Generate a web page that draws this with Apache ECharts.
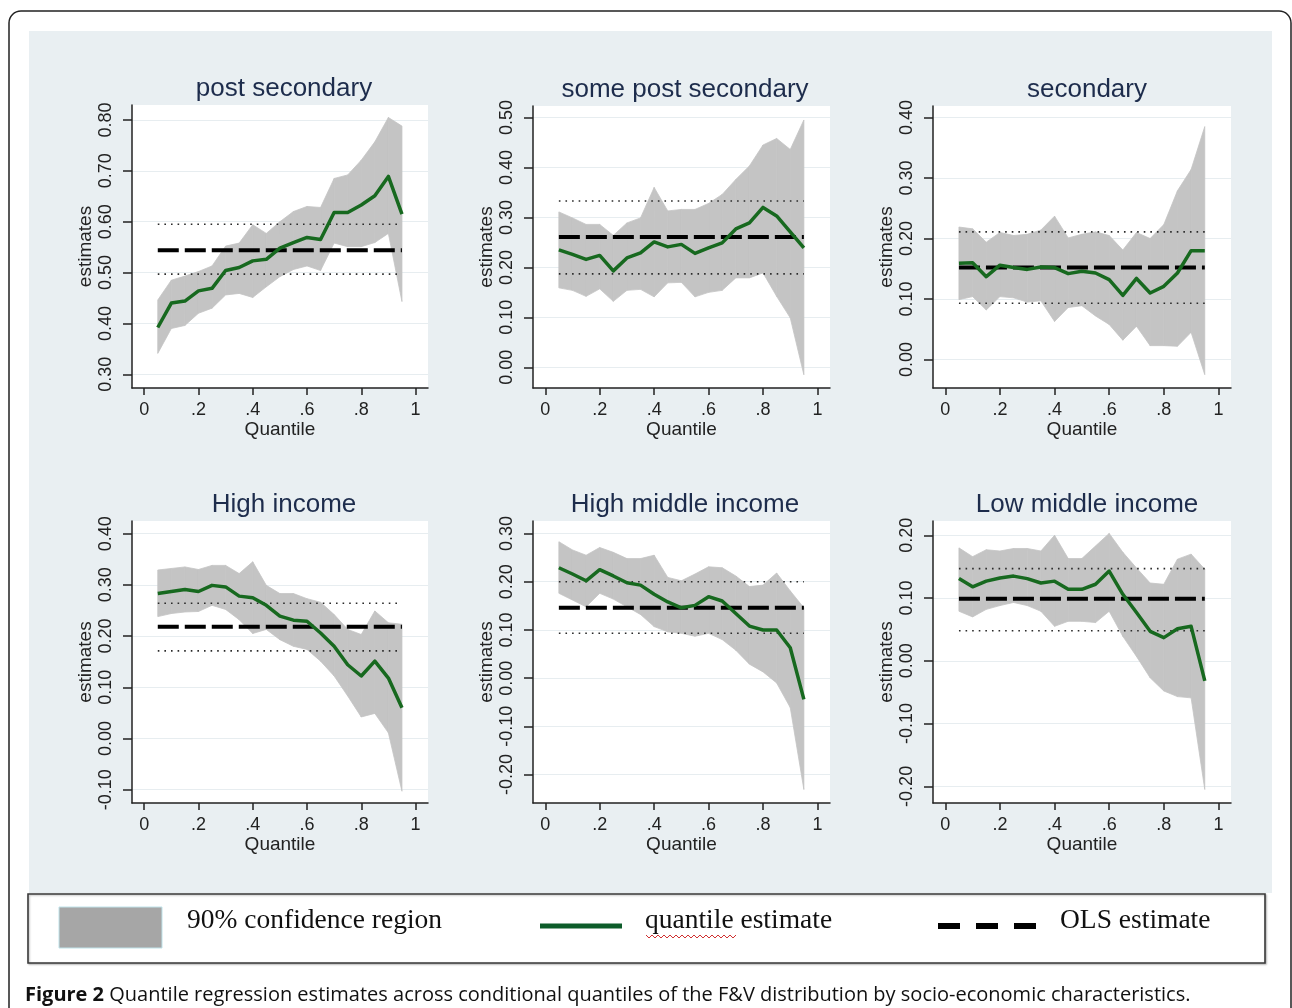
<!DOCTYPE html>
<html>
<head>
<meta charset="utf-8">
<script src="https://cdn.jsdelivr.net/npm/echarts@6/dist/echarts.min.js"></script>
<style>
html,body{margin:0;padding:0;background:#fff;}
#chart{width:1292px;height:1008px;}
</style>
</head>
<body>
<div id="chart"></div>
<script>
// ---------- DATA ----------
const quantiles = [0.05,0.10,0.15,0.20,0.25,0.30,0.35,0.40,0.45,0.50,0.55,0.60,0.65,0.70,0.75,0.80,0.85,0.90,0.95];
const xTicks = [0, 0.2, 0.4, 0.6, 0.8, 1];

const panelTitles = ["post secondary", "some post secondary", "secondary", "High income", "High middle income", "Low middle income"];

// post secondary
const postSecEst = [0.392,0.440,0.444,0.464,0.469,0.504,0.510,0.523,0.526,0.548,0.559,0.569,0.565,0.618,0.618,0.633,0.651,0.689,0.615];
const postSecHi  = [0.446,0.485,0.493,0.502,0.513,0.552,0.558,0.594,0.577,0.600,0.620,0.630,0.628,0.685,0.692,0.721,0.757,0.805,0.788];
const postSecLo  = [0.341,0.390,0.396,0.420,0.430,0.456,0.459,0.451,0.472,0.492,0.506,0.513,0.504,0.558,0.551,0.551,0.559,0.577,0.443];
const postSecOls = [0.544, 0.497, 0.595]; // estimate, lower, upper
const postSecTicks = [0.30,0.40,0.50,0.60,0.70,0.80];

// some post secondary
const somePostEst = [0.235,0.226,0.216,0.224,0.193,0.219,0.229,0.251,0.241,0.246,0.228,0.239,0.249,0.277,0.289,0.320,0.303,0.271,0.239];
const somePostHi  = [0.311,0.299,0.286,0.286,0.264,0.289,0.299,0.360,0.313,0.316,0.316,0.328,0.346,0.376,0.403,0.445,0.458,0.436,0.495];
const somePostLo  = [0.159,0.154,0.142,0.157,0.132,0.154,0.156,0.141,0.169,0.170,0.141,0.150,0.154,0.179,0.179,0.189,0.142,0.099,-0.015];
const somePostOls = [0.261, 0.187, 0.333];
const somePostTicks = [0.00,0.10,0.20,0.30,0.40,0.50];

// secondary
const secEst = [0.159,0.160,0.137,0.156,0.152,0.149,0.153,0.152,0.142,0.146,0.143,0.132,0.106,0.134,0.110,0.121,0.143,0.180,0.180];
const secHi  = [0.219,0.216,0.194,0.210,0.205,0.207,0.214,0.237,0.201,0.207,0.211,0.205,0.181,0.210,0.200,0.223,0.279,0.314,0.385];
const secLo  = [0.099,0.104,0.082,0.104,0.102,0.095,0.097,0.063,0.086,0.089,0.072,0.058,0.032,0.055,0.023,0.023,0.022,0.045,-0.025];
const secOls = [0.152, 0.093, 0.211];
const secTicks = [0.00,0.10,0.20,0.30,0.40];

// High income
const highIncEst = [0.283,0.287,0.291,0.287,0.299,0.296,0.278,0.275,0.260,0.239,0.231,0.229,0.206,0.180,0.144,0.122,0.151,0.118,0.060];
const highIncHi  = [0.329,0.332,0.335,0.330,0.338,0.338,0.322,0.345,0.299,0.283,0.283,0.273,0.266,0.242,0.213,0.203,0.249,0.226,0.223];
const highIncLo  = [0.238,0.244,0.247,0.248,0.260,0.252,0.232,0.205,0.213,0.193,0.180,0.174,0.151,0.122,0.083,0.042,0.049,0.011,-0.103];
const highIncOls = [0.218, 0.171, 0.264];
const highIncTicks = [-0.10,0.00,0.10,0.20,0.30,0.40];

// High middle income
const highMidEst = [0.229,0.216,0.202,0.225,0.212,0.198,0.193,0.174,0.158,0.146,0.151,0.169,0.160,0.134,0.108,0.100,0.100,0.063,-0.044];
const highMidHi  = [0.283,0.266,0.255,0.271,0.261,0.248,0.248,0.255,0.209,0.202,0.216,0.231,0.229,0.212,0.190,0.193,0.218,0.181,0.146];
const highMidLo  = [0.176,0.162,0.148,0.176,0.164,0.148,0.132,0.107,0.096,0.093,0.087,0.093,0.080,0.058,0.029,0.013,-0.010,-0.061,-0.231];
const highMidOls = [0.146, 0.093, 0.200];
const highMidTicks = [-0.20,-0.10,0.00,0.10,0.20,0.30];

// Low middle income
const lowMidEst = [0.131,0.118,0.127,0.132,0.135,0.131,0.124,0.127,0.114,0.114,0.122,0.143,0.106,0.077,0.047,0.037,0.051,0.055,-0.032];
const lowMidHi  = [0.180,0.166,0.177,0.175,0.179,0.179,0.175,0.200,0.163,0.163,0.183,0.203,0.173,0.148,0.124,0.122,0.162,0.170,0.146];
const lowMidLo  = [0.079,0.070,0.082,0.088,0.093,0.088,0.079,0.055,0.063,0.063,0.061,0.079,0.039,0.007,-0.027,-0.048,-0.057,-0.059,-0.205];
const lowMidOls = [0.099, 0.048, 0.147];
const lowMidTicks = [-0.20,-0.10,0.00,0.10,0.20];

const legendLabels = ["90% confidence region", "quantile estimate", "OLS estimate"];
const captionBold = "Figure 2";
const captionText = " Quantile regression estimates across conditional quantiles of the F&V distribution by socio-economic characteristics.";

// ---------- LAYOUT ----------
const panels = [
  {est: postSecEst,  hi: postSecHi,  lo: postSecLo,  ols: postSecOls,  ticks: postSecTicks,  ymin: 0.273,  ymax: 0.8295, left: 132, top: 105, w: 296, h: 283, tx: 279},
  {est: somePostEst, hi: somePostHi, lo: somePostLo, ols: somePostOls, ticks: somePostTicks, ymin: -0.0414, ymax: 0.523, left: 533, top: 106, w: 297, h: 282, tx: 680},
  {est: secEst,      hi: secHi,      lo: secLo,      ols: secOls,      ticks: secTicks,      ymin: -0.047, ymax: 0.419,  left: 933, top: 106, w: 298, h: 282, tx: 1082},
  {est: highIncEst,  hi: highIncHi,  lo: highIncLo,  ols: highIncOls,  ticks: highIncTicks,  ymin: -0.126, ymax: 0.4247, left: 132, top: 521, w: 296, h: 282, tx: 279},
  {est: highMidEst,  hi: highMidHi,  lo: highMidLo,  ols: highMidOls,  ticks: highMidTicks,  ymin: -0.259, ymax: 0.326,  left: 533, top: 521, w: 297, h: 282, tx: 680},
  {est: lowMidEst,   hi: lowMidHi,   lo: lowMidLo,   ols: lowMidOls,   ticks: lowMidTicks,   ymin: -0.2265, ymax: 0.2228, left: 933, top: 521, w: 298, h: 282, tx: 1082}
];

const FONT = '"Liberation Sans", Arial, sans-serif';
const SERIF = '"Liberation Serif", "Times New Roman", serif';
const AXIS_COLOR = '#222';
const GREEN = '#17691f';
const BAND = '#c4c4c4';

const grids = [], xAxes = [], yAxes = [], series = [], titles = [];

function bandRenderItem(params, api) {
  const a = api.coord([api.value(0), api.value(1)]);
  const b = api.coord([api.value(3), api.value(4)]);
  const c = api.coord([api.value(3), api.value(5)]);
  const d = api.coord([api.value(0), api.value(2)]);
  return {
    type: 'polygon',
    shape: {points: [a, b, c, d]},
    style: {fill: BAND, stroke: BAND, lineWidth: 0.8}
  };
}

panels.forEach((p, i) => {
  grids.push({left: p.left, top: p.top, width: p.w, height: p.h, show: true, backgroundColor: '#ffffff', borderWidth: 0, containLabel: false});
  xAxes.push({
    type: 'value', gridIndex: i, min: -0.045, max: 1.046,
    name: 'Quantile', nameLocation: 'middle', nameGap: 30,
    nameTextStyle: {fontFamily: FONT, fontSize: 19, color: '#222'},
    axisLine: {show: true, onZero: false, lineStyle: {color: AXIS_COLOR, width: 1.5}},
    axisTick: {show: true, length: 7, lineStyle: {color: AXIS_COLOR, width: 1.5}, customValues: xTicks},
    axisLabel: {show: true, margin: 13, fontFamily: FONT, fontSize: 18, color: '#222', customValues: xTicks,
      formatter: v => (Math.abs(v) < 1e-9 ? '0' : Math.abs(v - 1) < 1e-9 ? '1' : ('.' + Math.round(v * 10)))},
    splitLine: {show: false}
  });
  yAxes.push({
    type: 'value', gridIndex: i, min: p.ymin, max: p.ymax,
    name: 'estimates', nameLocation: 'middle', nameGap: 37,
    nameTextStyle: {fontFamily: FONT, fontSize: 19, color: '#222'},
    axisLine: {show: true, onZero: false, lineStyle: {color: AXIS_COLOR, width: 1.5}},
    axisTick: {show: true, length: 9, lineStyle: {color: AXIS_COLOR, width: 1.5}, customValues: p.ticks},
    axisLabel: {show: true, rotate: 90, margin: 17, fontFamily: FONT, fontSize: 18, color: '#222', customValues: p.ticks,
      formatter: v => v.toFixed(2)},
    splitLine: {show: true, lineStyle: {color: '#e7edf0', width: 1}}
  });
  titles.push({
    text: panelTitles[i], left: p.tx, top: p.top - 34, textAlign: 'center',
    textStyle: {fontFamily: FONT, fontSize: 26, fontWeight: 'normal', color: '#1d2c4c'}
  });
  // confidence band: one quad per interval between consecutive quantiles
  const bandData = [];
  for (let k = 0; k < quantiles.length - 1; k++) {
    bandData.push([quantiles[k], p.lo[k], p.hi[k], quantiles[k + 1], p.lo[k + 1], p.hi[k + 1]]);
  }
  series.push({
    type: 'custom', xAxisIndex: i, yAxisIndex: i, renderItem: bandRenderItem,
    data: bandData, encode: {x: [0, 3], y: [1, 2, 4, 5]}, silent: true, z: 1, clip: true
  });
  const x0 = quantiles[0], x1 = quantiles[quantiles.length - 1];
  [p.ols[1], p.ols[2]].forEach(v => {
    series.push({
      type: 'line', xAxisIndex: i, yAxisIndex: i, data: [[x0, v], [x1, v]],
      symbol: 'none', lineStyle: {color: '#2a2a2a', width: 1.6, type: [1.6, 5]}, silent: true, z: 2
    });
  });
  series.push({
    type: 'line', xAxisIndex: i, yAxisIndex: i, data: [[x0, p.ols[0]], [x1, p.ols[0]]],
    symbol: 'none', lineStyle: {color: '#000', width: 4, type: [21, 6]}, silent: true, z: 3
  });
  series.push({
    type: 'line', xAxisIndex: i, yAxisIndex: i, data: quantiles.map((q, k) => [q, p.est[k]]),
    symbol: 'none', lineStyle: {color: GREEN, width: 3.5, join: 'round'}, silent: true, z: 4
  });
});

// red wavy spell-check underline under "quantile"
const wavy = [];
for (let x = 646; x <= 738; x += 3) wavy.push([x, ((x - 646) / 3) % 2 === 0 ? 935 : 938]);

const graphic = [
  {type: 'rect', shape: {x: 9, y: 11, width: 1282, height: 1100, r: 12}, style: {fill: 'none', stroke: '#222', lineWidth: 1.5}, z: -10},
  {type: 'rect', shape: {x: 29, y: 31, width: 1243, height: 862}, style: {fill: '#e9eff2'}, z: -20},
  {type: 'rect', shape: {x: 28, y: 894, width: 1237, height: 69}, style: {fill: '#fff', stroke: '#3a3a3a', lineWidth: 1.6, shadowColor: 'rgba(0,0,0,0.25)', shadowBlur: 2, shadowOffsetX: 1, shadowOffsetY: 1}, z: 1},
  {type: 'rect', shape: {x: 59, y: 907, width: 103, height: 41}, style: {fill: '#a6a6a6', stroke: '#bfe3ea', lineWidth: 1}, z: 2},
  {type: 'text', x: 187, y: 921, style: {text: legendLabels[0], fontFamily: SERIF, fontSize: 27.5, fill: '#111', verticalAlign: 'middle'}, z: 2},
  {type: 'line', shape: {x1: 540, y1: 926, x2: 622, y2: 926}, style: {stroke: '#0d5c2a', lineWidth: 5}, z: 2},
  {type: 'text', x: 645, y: 921, style: {text: legendLabels[1], fontFamily: SERIF, fontSize: 27.5, fill: '#111', verticalAlign: 'middle'}, z: 2},
  {type: 'polyline', shape: {points: wavy}, style: {stroke: '#d03030', lineWidth: 1, fill: 'none'}, z: 3},
  {type: 'line', shape: {x1: 938, y1: 926, x2: 1036, y2: 926}, style: {stroke: '#000', lineWidth: 6, lineDash: [22, 16]}, z: 2},
  {type: 'text', x: 1060, y: 921, style: {text: legendLabels[2], fontFamily: SERIF, fontSize: 27.5, fill: '#111', verticalAlign: 'middle'}, z: 2},
  {type: 'text', x: 25, y: 995, style: {
    text: '{b|' + captionBold + '}' + captionText,
    fontFamily: '"Open Sans", sans-serif', fontSize: 20, fill: '#111', verticalAlign: 'middle',
    rich: {b: {fontFamily: '"Open Sans", sans-serif', fontSize: 20, fontWeight: 'bold', fill: '#111'}}
  }, z: 2}
];

const chart = echarts.init(document.getElementById('chart'), null, {renderer: 'canvas'});
chart.setOption({
  animation: false,
  backgroundColor: '#ffffff',
  title: titles,
  grid: grids,
  xAxis: xAxes,
  yAxis: yAxes,
  series: series,
  graphic: graphic
});
</script>
</body>
</html>
